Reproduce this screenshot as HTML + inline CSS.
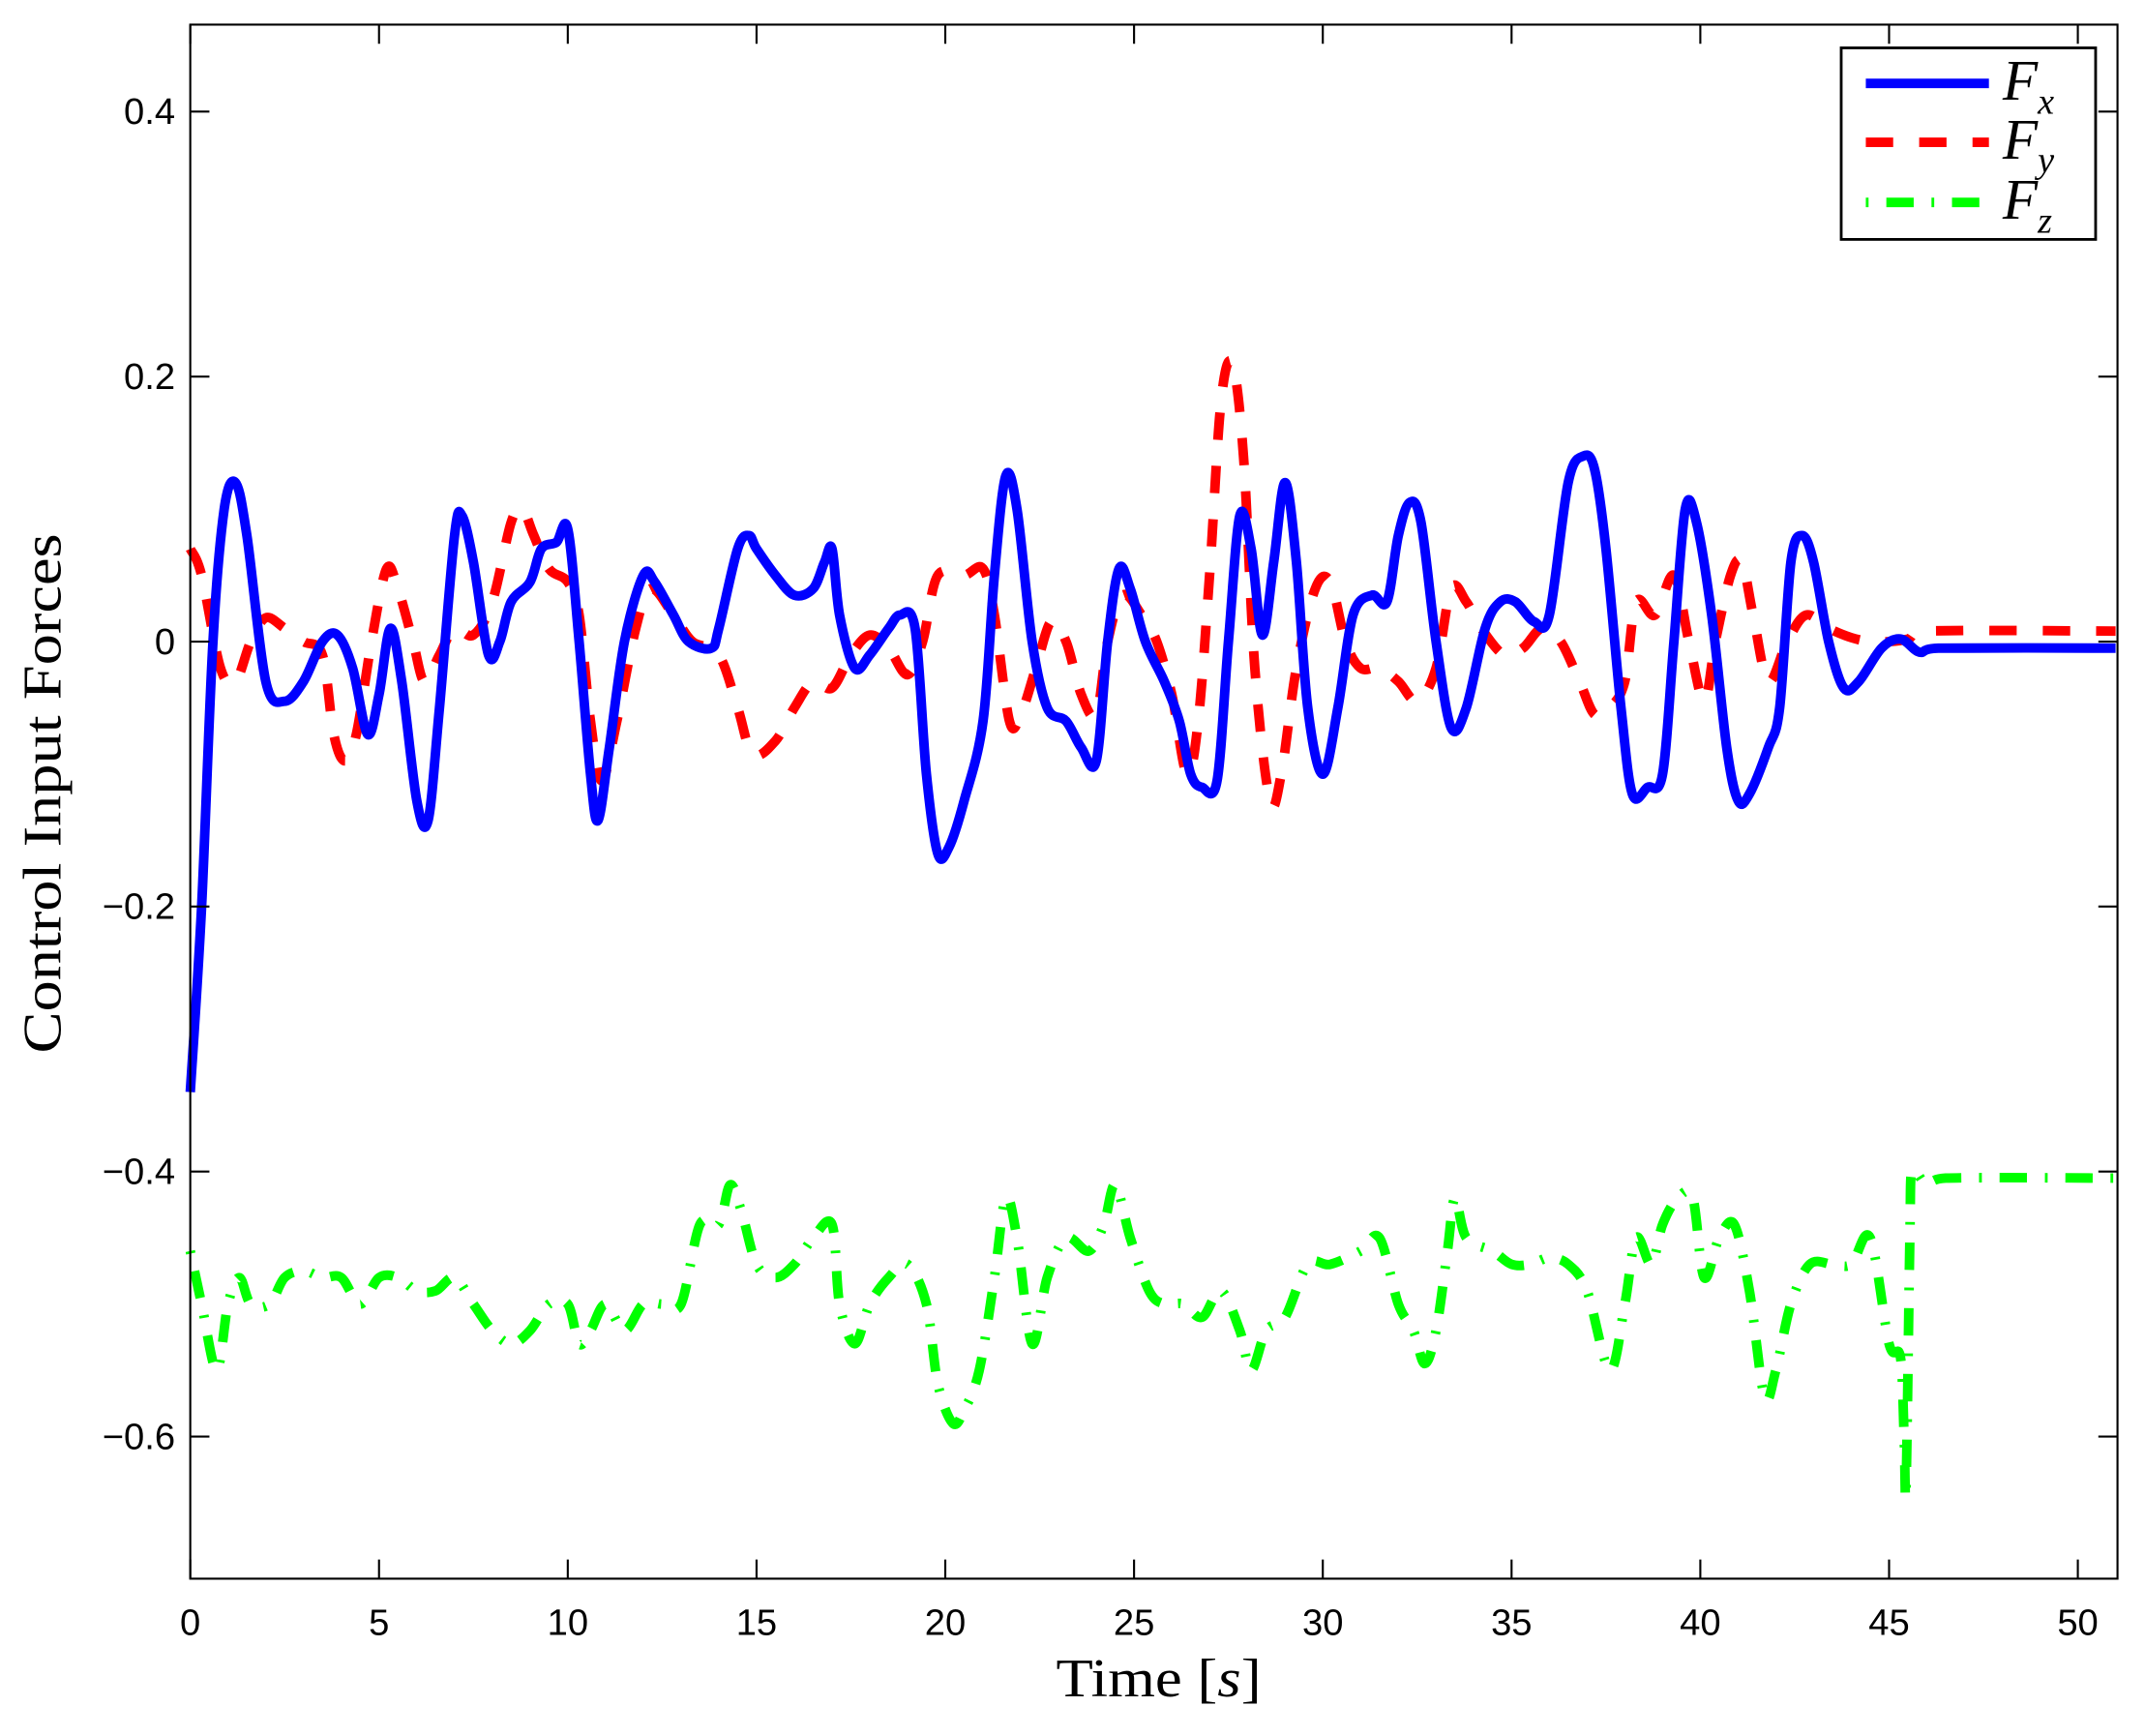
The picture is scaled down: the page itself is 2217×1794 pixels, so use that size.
<!DOCTYPE html>
<html><head><meta charset="utf-8"><style>html,body{margin:0;padding:0;background:#fff}svg{display:block}</style></head>
<body>
<svg id="s" width="2217" height="1794" viewBox="0 0 1568 1269" xmlns="http://www.w3.org/2000/svg">
<rect width="1568" height="1269" fill="#fff"/>
<g id="curves"></g>
<rect x="139" y="18" width="1409" height="1136" fill="none" stroke="#000" stroke-width="1.5"/>
<g id="ticks" stroke="#000" stroke-width="1.5"></g>
<g id="labels" font-family="Liberation Sans, sans-serif" font-size="27" fill="#000"></g>
<text x="847" y="1240" text-anchor="middle" font-family="Liberation Serif, serif" font-size="40" textLength="150" lengthAdjust="spacingAndGlyphs">Time [<tspan font-style="italic">s</tspan>]</text>
<text transform="translate(44,580) rotate(-90)" text-anchor="middle" font-family="Liberation Serif, serif" font-size="40" textLength="380" lengthAdjust="spacingAndGlyphs">Control Input Forces</text>
<rect x="1346" y="35" width="186" height="140" fill="#fff" stroke="#000" stroke-width="2"/>
<line x1="1364" y1="61" x2="1454" y2="61" stroke="#0000ff" stroke-width="7"/>
<line x1="1364" y1="104" x2="1454" y2="104" stroke="#ff0000" stroke-width="7" stroke-dasharray="20,19"/>
<line x1="1364" y1="148" x2="1454" y2="148" stroke="#00ff00" stroke-width="7" stroke-dasharray="2,13,20,13"/>
<g font-family="Liberation Serif, serif" font-style="italic" fill="#000">
<text x="1464" y="73" font-size="42">F<tspan font-size="27" dy="10">x</tspan></text>
<text x="1464" y="116" font-size="42">F<tspan font-size="27" dy="10">y</tspan></text>
<text x="1464" y="160" font-size="42">F<tspan font-size="27" dy="10">z</tspan></text>
</g>
</svg>
<script>
var X=function(t){return 139+t*27.6},Y=function(v){return 469-v*968.5};
var NS="http://www.w3.org/2000/svg";
function el(p,n,a,txt){var e=document.createElementNS(NS,n);for(var k in a)e.setAttribute(k,a[k]);if(txt!==undefined)e.textContent=txt;document.getElementById(p).appendChild(e);}
for(var i=0;i<=10;i++){var x=X(i*5);el("ticks","line",{x1:x,y1:1154,x2:x,y2:1140});el("ticks","line",{x1:x,y1:18,x2:x,y2:32});el("labels","text",{x:x,y:1195,"text-anchor":"middle"},String(i*5));}
[0.4,0.2,0,-0.2,-0.4,-0.6].forEach(function(v){var y=Y(v);el("ticks","line",{x1:139,y1:y,x2:153,y2:y});el("ticks","line",{x1:1548,y1:y,x2:1534,y2:y});el("labels","text",{x:128,y:y+9,"text-anchor":"end"},v==0?"0":(v<0?"\u2212":"")+Math.abs(v).toFixed(1));});
function P(a){var pts=[];for(var i=0;i<a.length;i+=2)pts.push([X(a[i]),Y(a[i+1])]);
var d="M"+pts[0][0].toFixed(1)+","+pts[0][1].toFixed(1);
for(var i=0;i<pts.length-1;i++){var p0=pts[Math.max(0,i-1)],p1=pts[i],p2=pts[i+1],p3=pts[Math.min(pts.length-1,i+2)];
var c1=[p1[0]+(p2[0]-p0[0])/6,p1[1]+(p2[1]-p0[1])/6],c2=[p2[0]-(p3[0]-p1[0])/6,p2[1]-(p3[1]-p1[1])/6];
c1[0]=Math.min(Math.max(c1[0],p1[0]),p2[0]);c2[0]=Math.min(Math.max(c2[0],p1[0]),p2[0]);
d+="C"+c1[0].toFixed(1)+","+c1[1].toFixed(1)+" "+c2[0].toFixed(1)+","+c2[1].toFixed(1)+" "+p2[0].toFixed(1)+","+p2[1].toFixed(1);}
return d;}
var fz=[0,-0.46,0.3,-0.5,0.7,-0.55,1,-0.5,1.3,-0.48,1.6,-0.5,2.1,-0.5,2.5,-0.48,3,-0.475,3.5,-0.48,4,-0.48,4.5,-0.5,5,-0.48,5.5,-0.48,6,-0.49,6.5,-0.49,7,-0.48,7.5,-0.5,8,-0.52,8.5,-0.53,9,-0.52,9.5,-0.5,10,-0.5,10.3,-0.53,10.6,-0.52,11,-0.5,11.5,-0.52,12,-0.5,12.5,-0.5,13,-0.5,13.5,-0.44,14,-0.44,14.3,-0.41,14.6,-0.43,15,-0.47,15.5,-0.48,16,-0.47,16.5,-0.45,17,-0.44,17.2,-0.5,17.6,-0.53,18,-0.5,18.5,-0.48,19,-0.47,19.5,-0.5,19.8,-0.56,20.2,-0.59,20.5,-0.58,20.9,-0.55,21.3,-0.48,21.6,-0.42,21.9,-0.45,22.3,-0.53,22.7,-0.48,23.2,-0.45,23.8,-0.46,24.2,-0.44,24.5,-0.41,24.9,-0.45,25.4,-0.49,25.8,-0.5,26.3,-0.5,26.8,-0.51,27.3,-0.49,27.8,-0.52,28.1,-0.55,28.5,-0.52,29,-0.51,29.6,-0.47,30.2,-0.47,31,-0.46,31.5,-0.45,32,-0.5,32.4,-0.52,32.7,-0.545,33,-0.52,33.3,-0.46,33.5,-0.42,33.8,-0.45,34.5,-0.46,35,-0.47,35.5,-0.47,36,-0.465,36.5,-0.47,37,-0.49,37.6,-0.55,38,-0.5,38.3,-0.45,38.7,-0.47,39,-0.44,39.4,-0.42,39.8,-0.42,40.1,-0.48,40.5,-0.45,40.9,-0.44,41.3,-0.49,41.7,-0.57,42,-0.55,42.4,-0.5,42.9,-0.47,43.5,-0.47,44,-0.47,44.5,-0.45,45,-0.53,45.3,-0.54,45.4,-0.6,45.45,-0.64,45.55,-0.45,45.6,-0.4,46,-0.41,46.5,-0.405,51,-0.405];
var fy=[0,0.07,0.3,0.05,0.8,-0.02,1.2,-0.03,1.6,0,2,0.018,2.5,0.01,3,0,3.5,-0.01,3.8,-0.07,4.1,-0.09,4.4,-0.07,4.8,0,5.2,0.055,5.5,0.04,5.9,0,6.2,-0.03,6.6,-0.01,7,0.01,7.5,0.005,8,0.03,8.5,0.09,8.8,0.1,9.1,0.08,9.5,0.055,10,0.045,10.3,0.02,10.6,-0.06,10.9,-0.105,11.3,-0.06,11.8,0.01,12.2,0.04,12.8,0.02,13.3,0,14,-0.01,14.5,-0.05,14.9,-0.085,15.5,-0.075,16,-0.05,16.5,-0.03,17,-0.035,17.5,-0.01,18,0.005,18.5,-0.005,19,-0.025,19.4,0,19.8,0.05,20.5,0.05,21,0.055,21.3,0.02,21.7,-0.06,22,-0.055,22.4,-0.02,22.8,0.015,23.2,0,23.6,-0.04,24,-0.055,24.3,0,24.7,0.035,25.2,0.02,25.6,0,26,-0.04,26.4,-0.1,26.7,-0.06,27,0.05,27.3,0.18,27.6,0.21,27.9,0.14,28.2,-0.02,28.6,-0.12,28.9,-0.1,29.3,-0.02,29.8,0.04,30.2,0.045,30.6,0,31,-0.02,31.5,-0.02,32,-0.03,32.5,-0.045,33,-0.02,33.4,0.04,33.8,0.03,34.2,0.01,34.8,-0.01,35.3,-0.005,35.8,0.01,36.3,0,36.8,-0.03,37.2,-0.055,37.6,-0.05,38,-0.03,38.3,0.03,38.8,0.02,39.3,0.05,39.7,0,40.1,-0.045,40.4,0,40.8,0.05,41.1,0.06,41.4,0.02,41.8,-0.03,42.3,0,42.8,0.02,43.4,0.01,44,0.003,44.5,0,45,0,45.5,0.002,46,0.008,51,0.008];
var fx=[0,-0.34,0.3,-0.2,0.6,0,0.9,0.1,1.2,0.12,1.5,0.08,2,-0.03,2.5,-0.045,3,-0.03,3.5,0,3.9,0.005,4.3,-0.02,4.7,-0.07,5,-0.04,5.3,0.01,5.6,-0.03,6,-0.12,6.3,-0.135,6.6,-0.05,7,0.08,7.2,0.095,7.5,0.06,7.9,-0.01,8.2,0,8.5,0.03,9,0.045,9.3,0.07,9.7,0.075,10,0.085,10.3,0,10.6,-0.1,10.8,-0.135,11.1,-0.08,11.5,0,12,0.05,12.3,0.045,12.8,0.02,13.2,0,13.8,-0.005,14,0.01,14.5,0.07,14.8,0.08,15,0.07,15.5,0.05,16,0.035,16.5,0.04,16.8,0.06,17,0.07,17.2,0.02,17.6,-0.02,18,-0.01,18.5,0.01,18.8,0.02,19.2,0.01,19.5,-0.1,19.8,-0.16,20.1,-0.155,20.5,-0.12,21,-0.06,21.3,0.05,21.6,0.125,21.9,0.1,22.3,0,22.7,-0.05,23.2,-0.06,23.6,-0.08,24,-0.09,24.3,0,24.6,0.055,24.9,0.04,25.3,0,25.8,-0.03,26.2,-0.06,26.5,-0.1,26.8,-0.11,27.2,-0.105,27.5,0,27.8,0.095,28.1,0.07,28.4,0.005,28.7,0.06,29,0.12,29.3,0.06,29.6,-0.05,30,-0.1,30.4,-0.05,30.8,0.02,31.3,0.035,31.7,0.03,32,0.08,32.3,0.105,32.6,0.09,33,0,33.4,-0.065,33.8,-0.05,34.3,0.01,34.7,0.03,35.1,0.03,35.6,0.015,36,0.02,36.5,0.12,36.9,0.14,37.2,0.13,37.5,0.07,37.9,-0.05,38.2,-0.115,38.6,-0.11,39,-0.1,39.3,0,39.6,0.1,39.9,0.09,40.3,0.02,40.7,-0.08,41,-0.12,41.3,-0.115,41.8,-0.08,42.1,-0.05,42.4,0.06,42.7,0.08,43,0.06,43.4,0,43.8,-0.035,44.2,-0.03,44.8,-0.005,45.3,0.002,45.8,-0.008,46.3,-0.005,51,-0.005];
el("curves","path",{d:P(fz),fill:"none",stroke:"#00ff00","stroke-width":7,"stroke-dasharray":"2,13,20,13","stroke-linejoin":"round"});
el("curves","path",{d:P(fy),fill:"none",stroke:"#ff0000","stroke-width":7,"stroke-dasharray":"20,19","stroke-linejoin":"round"});
el("curves","path",{d:P(fx),fill:"none",stroke:"#0000ff","stroke-width":7,"stroke-linejoin":"round"});
</script>
</body></html>
